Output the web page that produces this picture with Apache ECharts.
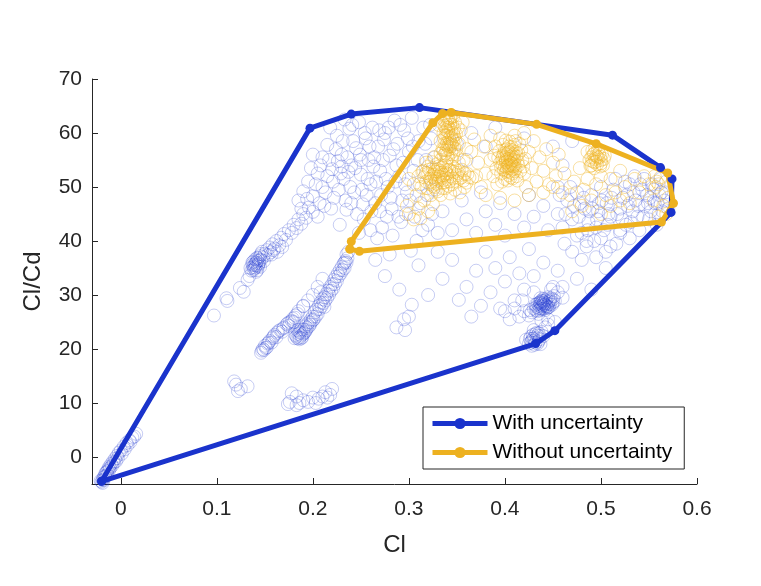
<!DOCTYPE html>
<html>
<head>
<meta charset="utf-8">
<script src="https://cdn.jsdelivr.net/npm/echarts@6/dist/echarts.min.js"></script>
<style>
  html, body { margin: 0; padding: 0; background: #fff; }
  #main { width: 761px; height: 586px; }
</style>
</head>
<body>
<div id="main"></div>
<script>
// tick values
var xTicks = [0, 0.1, 0.2, 0.3, 0.4, 0.5, 0.6];
var yTicks = [0, 10, 20, 30, 40, 50, 60, 70];

// convex hulls (closed)
var hullWith = [[-0.02, -4.5], [0.197, 60.9], [0.24, 63.5], [0.311, 64.7], [0.512, 59.6], [0.562, 53.6],
    [0.574, 51.5], [0.573, 45.3], [0.452, 23.4], [0.432, 21.0], [-0.02, -4.5]];
var hullWithout = [[0.2385, 38.5], [0.240, 39.9], [0.325, 61.9], [0.335, 63.6], [0.344, 63.8], [0.433, 61.6],
    [0.495, 58.0], [0.5695, 52.6], [0.5755, 47.0], [0.563, 43.5], [0.2485, 38.1], [0.2385, 38.5]];

// blue samples (with uncertainty)
var blueOrigin = [[-0.02, -4.6], [-0.019, -4.2], [-0.018, -3.8], [-0.017, -3.5], [-0.016, -3.0], [-0.015, -2.8],
    [-0.013, -2.2], [-0.012, -1.8], [-0.01, -1.3], [-0.008, -0.8], [-0.006, -0.3], [-0.004, 0.2], [-0.002, 0.8],
    [0.0, 1.2], [0.003, 1.9], [0.006, 2.6], [0.009, 3.1], [0.012, 3.6], [0.016, 4.3], [-0.014, -3.3],
    [-0.011, -2.0], [-0.007, -1.0], [-0.019, -4.8], [-0.021, -4.4],
    [-0.018, -4.3], [-0.016, -3.6], [-0.014, -2.6], [-0.012, -2.4], [-0.009, -1.6], [-0.005, -0.8],
    [-0.003, -0.2], [0.001, 0.6], [0.004, 1.4], [0.007, 2.2], [0.01, 2.8], [0.014, 3.8]];
var blueLeftBand = [[0.136, 34.5], [0.138, 35.2], [0.14, 35.8], [0.142, 36.3], [0.139, 34.9], [0.141, 35.5],
    [0.143, 36.8], [0.145, 37.2], [0.137, 35.6], [0.14, 36.6], [0.144, 35.9], [0.146, 36.5], [0.135, 35.0],
    [0.142, 34.6], [0.148, 37.0], [0.15, 37.6], [0.138, 36.2], [0.143, 35.3], [0.147, 38.0], [0.152, 38.3],
    [0.155, 38.8], [0.158, 39.4], [0.16, 38.6], [0.162, 40.0], [0.165, 39.2], [0.167, 40.6], [0.17, 41.3],
    [0.172, 40.2], [0.175, 42.0], [0.178, 41.5], [0.18, 43.0], [0.183, 42.4], [0.185, 44.0], [0.188, 43.2],
    [0.19, 45.0], [0.193, 44.3], [0.196, 46.2], [0.2, 45.4], [0.134, 33.5], [0.132, 32.8], [0.128, 30.6],
    [0.124, 31.3], [0.11, 29.4], [0.111, 28.9], [0.097, 26.2], [0.157, 37.5], [0.163, 38.0], [0.168, 38.9],
    [0.139, 35.5], [0.141, 36.0], [0.143, 35.6], [0.14, 35.1], [0.142, 36.9], [0.138, 34.6], [0.144, 36.4],
    [0.145, 35.2], [0.137, 36.0], [0.141, 34.3], [0.146, 37.6], [0.149, 36.3], [0.153, 37.4], [0.156, 37.9],
    [0.159, 38.3]];
var blueUpper = [[0.185, 47.5], [0.19, 49.2], [0.195, 51.0], [0.2, 48.3], [0.205, 52.5], [0.21, 50.0],
    [0.21, 55.5], [0.215, 57.8], [0.22, 53.3], [0.222, 48.0], [0.225, 59.5], [0.23, 56.0], [0.232, 51.5],
    [0.235, 45.8], [0.238, 60.8], [0.24, 54.0], [0.243, 49.0], [0.245, 57.2], [0.248, 62.0], [0.25, 52.3],
    [0.253, 44.0], [0.255, 59.0], [0.258, 55.0], [0.26, 50.5], [0.262, 61.0], [0.265, 47.0], [0.268, 57.5],
    [0.27, 53.0], [0.272, 42.5], [0.275, 60.0], [0.278, 50.0], [0.28, 55.8], [0.282, 46.0], [0.285, 62.3],
    [0.288, 58.0], [0.29, 52.0], [0.292, 43.5], [0.295, 60.5], [0.298, 49.0], [0.3, 56.5], [0.303, 62.8],
    [0.305, 53.0], [0.308, 40.0], [0.31, 58.5], [0.312, 47.0], [0.315, 61.0], [0.318, 55.0], [0.32, 43.0],
    [0.323, 59.0], [0.325, 49.5], [0.2, 56.0], [0.205, 44.5], [0.212, 46.5], [0.218, 61.0], [0.228, 43.0],
    [0.233, 62.5], [0.248, 41.5], [0.252, 46.8], [0.263, 53.8], [0.267, 40.5], [0.277, 44.5], [0.283, 41.0],
    [0.297, 45.0], [0.302, 38.2], [0.215, 52.0], [0.226, 54.8], [0.237, 52.8], [0.242, 58.5], [0.256, 48.5],
    [0.274, 58.8], [0.287, 54.0], [0.293, 47.5],
    [0.188, 46.0], [0.194, 47.8], [0.198, 53.5], [0.203, 50.5], [0.207, 47.0], [0.208, 54.0], [0.213, 49.0],
    [0.217, 55.0], [0.219, 46.0], [0.221, 51.0], [0.224, 57.0], [0.227, 49.5], [0.229, 52.5], [0.231, 58.5],
    [0.234, 47.5], [0.236, 55.5], [0.239, 50.0], [0.241, 61.5], [0.244, 53.5], [0.246, 45.0], [0.249, 56.0],
    [0.251, 49.5], [0.254, 60.0], [0.257, 51.5], [0.259, 57.5], [0.261, 45.5], [0.264, 55.5], [0.266, 51.0],
    [0.269, 60.5], [0.271, 48.5], [0.273, 55.0], [0.276, 51.5], [0.279, 61.0], [0.281, 48.0], [0.284, 57.0],
    [0.286, 51.0], [0.289, 44.5], [0.291, 61.5], [0.294, 54.5], [0.296, 50.5], [0.299, 59.0], [0.301, 47.5],
    [0.304, 57.5], [0.306, 44.5], [0.309, 55.0], [0.311, 50.5], [0.314, 42.0], [0.317, 58.0], [0.319, 48.5],
    [0.322, 61.5], [0.324, 45.0], [0.327, 55.5], [0.33, 41.5], [0.26, 42.0], [0.27, 45.5], [0.25, 55.0],
    [0.23, 53.8], [0.24, 47.0]];
var blueCentral = [[0.335, 45.5], [0.345, 42.0], [0.355, 47.5], [0.36, 44.0], [0.37, 41.5], [0.375, 49.0],
    [0.38, 45.5], [0.39, 43.0], [0.395, 47.0], [0.4, 41.0], [0.41, 45.0], [0.42, 42.5], [0.425, 48.5],
    [0.43, 44.5], [0.44, 46.5], [0.445, 42.0], [0.35, 58.0], [0.365, 60.0], [0.38, 57.5], [0.39, 61.0],
    [0.36, 55.0], [0.42, 59.0], [0.45, 57.5], [0.46, 54.0], [0.47, 58.5], [0.455, 50.0]];
var blueMiddle = [[0.265, 36.5], [0.275, 33.5], [0.28, 37.5], [0.29, 31.0], [0.295, 25.5], [0.3, 26.0],
    [0.303, 28.2], [0.31, 35.5], [0.32, 30.0], [0.33, 38.0], [0.335, 33.0], [0.345, 36.5], [0.352, 29.1],
    [0.36, 31.5], [0.365, 26.0], [0.37, 34.5], [0.375, 28.0], [0.38, 38.0], [0.385, 30.5], [0.39, 35.0],
    [0.395, 27.5], [0.4, 32.5], [0.405, 37.0], [0.41, 29.0], [0.415, 34.0], [0.42, 31.0], [0.425, 38.5],
    [0.43, 33.5], [0.44, 36.0], [0.45, 31.5], [0.455, 34.5], [0.46, 29.5], [0.47, 38.0], [0.475, 33.0],
    [0.48, 36.5], [0.485, 40.0], [0.49, 31.0], [0.495, 37.0], [0.5, 40.5], [0.505, 35.0], [0.51, 39.0],
    [0.52, 42.0], [0.287, 24.0], [0.296, 23.5]];
var blueLowRight = [[0.43, 27.5], [0.432, 28.2], [0.434, 27.0], [0.436, 28.6], [0.438, 27.8], [0.44, 28.4],
    [0.442, 29.0], [0.444, 28.0], [0.446, 28.8], [0.448, 29.4], [0.45, 28.6], [0.436, 27.2], [0.439, 28.9],
    [0.441, 27.5], [0.443, 28.5], [0.445, 29.6], [0.433, 27.8], [0.437, 28.3], [0.44, 27.9], [0.442, 28.2],
    [0.447, 28.3], [0.428, 26.8], [0.435, 26.5], [0.451, 29.8], [0.438, 28.5], [0.44, 28.8], [0.444, 27.6],
    [0.426, 27.2], [0.452, 28.9], [0.437, 29.4], [0.425, 26.2], [0.42, 27.0], [0.415, 26.0], [0.41, 27.5],
    [0.405, 25.5], [0.4, 27.0], [0.418, 29.0], [0.455, 30.5], [0.46, 31.5], [0.448, 31.0], [0.43, 30.5],
    [0.445, 25.5], [0.452, 25.0], [0.438, 25.2],
    [0.435, 27.6], [0.437, 27.5], [0.439, 28.1], [0.441, 28.6], [0.443, 27.9], [0.445, 28.4], [0.447, 29.0],
    [0.449, 28.2], [0.434, 28.4], [0.438, 29.0], [0.442, 27.2], [0.446, 27.8], [0.432, 27.2], [0.45, 29.2],
    [0.44, 29.3], [0.436, 28.0], [0.439, 27.4], [0.441, 28.2], [0.443, 29.2], [0.445, 27.7], [0.437, 28.7],
    [0.425, 21.0], [0.428, 21.5], [0.43, 22.0], [0.432, 21.2], [0.434, 22.5], [0.436, 21.8], [0.427, 22.3],
    [0.431, 20.8], [0.433, 23.0], [0.438, 23.2], [0.44, 22.4], [0.429, 21.9], [0.435, 22.9], [0.442, 24.0],
    [0.445, 24.5], [0.422, 21.7], [0.43, 23.5], [0.437, 20.9],
    [0.427, 21.2], [0.429, 22.6], [0.431, 21.6], [0.433, 22.0], [0.435, 21.4], [0.428, 20.6], [0.434, 21.0],
    [0.432, 22.8], [0.426, 21.9], [0.436, 22.4]];
var blueRight = [[0.455, 45.0], [0.46, 42.5], [0.465, 47.5], [0.47, 44.0], [0.475, 49.0], [0.48, 41.5],
    [0.483, 46.0], [0.487, 43.5], [0.49, 48.5], [0.493, 40.0], [0.497, 45.5], [0.5, 50.0], [0.503, 42.0],
    [0.506, 47.0], [0.51, 44.5], [0.513, 49.5], [0.516, 39.5], [0.52, 46.0], [0.523, 48.0], [0.526, 43.0],
    [0.53, 50.5], [0.533, 45.5], [0.536, 47.5], [0.54, 42.0], [0.543, 49.5], [0.546, 46.5], [0.55, 44.0],
    [0.553, 50.5], [0.556, 47.0], [0.56, 45.0], [0.563, 49.0], [0.566, 47.5], [0.568, 51.0], [0.57, 46.0],
    [0.545, 51.5], [0.535, 52.0], [0.525, 51.0], [0.515, 51.5], [0.505, 38.0], [0.495, 42.5], [0.485, 39.0],
    [0.475, 41.0], [0.53, 40.5], [0.52, 41.5], [0.548, 48.5], [0.538, 44.5], [0.528, 46.5], [0.508, 45.0],
    [0.498, 47.0], [0.488, 45.5], [0.478, 47.0], [0.468, 50.0], [0.462, 39.5], [0.558, 43.0], [0.562, 51.5],
    [0.457, 48.5], [0.463, 45.0], [0.472, 46.5], [0.477, 44.5], [0.482, 48.0], [0.486, 42.0], [0.491, 46.0],
    [0.496, 44.0], [0.501, 47.5], [0.507, 43.0], [0.511, 48.0], [0.517, 45.0], [0.522, 44.0], [0.527, 48.5],
    [0.531, 43.5], [0.534, 49.0], [0.539, 46.5], [0.544, 44.5], [0.549, 47.0], [0.552, 45.5], [0.555, 49.5],
    [0.559, 47.0], [0.564, 45.5], [0.567, 49.0], [0.541, 50.5], [0.551, 48.0], [0.561, 48.5]];
var blueStrands = [[0.146, 19.3], [0.148, 20.0], [0.15, 20.6], [0.153, 21.0], [0.155, 21.5], [0.158, 22.0],
    [0.16, 22.6], [0.163, 23.0], [0.166, 23.5], [0.17, 24.0], [0.173, 24.6], [0.176, 25.0], [0.179, 25.6],
    [0.182, 26.2], [0.149, 19.8], [0.152, 20.3], [0.157, 21.2], [0.162, 22.2], [0.168, 23.2], [0.175, 24.3],
    [0.18, 25.0], [0.185, 27.0], [0.19, 28.0],
    [0.147, 19.7], [0.151, 20.2], [0.154, 21.2], [0.159, 22.3], [0.164, 23.3], [0.169, 23.8], [0.174, 24.8],
    [0.178, 25.2], [0.181, 25.8], [0.184, 26.5],
    [0.181, 22.0], [0.183, 22.3], [0.185, 22.8], [0.187, 23.0], [0.188, 22.5], [0.19, 23.6], [0.192, 24.2],
    [0.194, 24.6], [0.196, 25.0], [0.198, 25.5], [0.2, 26.0], [0.202, 26.8], [0.204, 27.3], [0.206, 28.0],
    [0.208, 28.6], [0.21, 29.2], [0.212, 29.6], [0.214, 30.2], [0.216, 30.8], [0.218, 31.5], [0.22, 32.0],
    [0.222, 32.8], [0.224, 33.4], [0.226, 34.0], [0.228, 34.6], [0.23, 35.2], [0.232, 35.8], [0.234, 36.3],
    [0.236, 36.8], [0.184, 23.5], [0.189, 22.2], [0.193, 23.5], [0.197, 24.5], [0.201, 25.5], [0.205, 26.5],
    [0.211, 28.5], [0.215, 29.5], [0.219, 30.8], [0.223, 32.0], [0.227, 33.5], [0.233, 35.0], [0.235, 37.5],
    [0.237, 38.0], [0.2, 30.0], [0.19, 27.9], [0.195, 29.0], [0.205, 31.5], [0.21, 33.0], [0.186, 22.1],
    [0.191, 23.0], [0.212, 27.8], [0.208, 30.5],
    [0.182, 22.6], [0.184, 22.0], [0.186, 23.2], [0.188, 23.6], [0.19, 22.8], [0.192, 23.2], [0.194, 23.9],
    [0.196, 24.2], [0.198, 24.9], [0.2, 25.3], [0.203, 26.0], [0.207, 27.4], [0.209, 27.9], [0.213, 29.0],
    [0.217, 30.1], [0.221, 31.2], [0.225, 32.6], [0.229, 34.0], [0.231, 34.6], [0.233, 36.0], [0.235, 36.0],
    [0.188, 22.0], [0.186, 21.8]];
var blueLow = [[0.12, 13.4], [0.132, 13.1], [0.122, 12.2], [0.118, 14.0], [0.125, 12.6],
    [0.174, 9.8], [0.176, 10.2], [0.178, 11.8], [0.183, 11.2], [0.186, 10.0], [0.19, 10.5], [0.195, 10.2],
    [0.2, 11.0], [0.203, 10.0], [0.206, 10.8], [0.21, 11.2], [0.213, 12.0], [0.215, 11.0], [0.218, 11.5],
    [0.22, 12.6], [0.183, 9.6]];

// orange samples (without uncertainty)
var orangeTop = [[0.336, 62.5], [0.339, 63.0], [0.342, 62.2], [0.345, 61.5], [0.338, 61.0], [0.341, 60.2],
    [0.344, 59.5], [0.347, 60.8], [0.337, 59.0], [0.34, 58.2], [0.343, 57.5], [0.346, 58.5], [0.349, 59.8],
    [0.335, 57.0], [0.338, 56.2], [0.341, 55.5], [0.344, 56.5], [0.347, 57.2], [0.35, 56.0], [0.34, 61.5],
    [0.343, 62.8], [0.346, 63.0], [0.336, 60.0], [0.339, 57.8], [0.342, 59.0], [0.345, 59.0], [0.348, 62.0],
    [0.352, 58.0], [0.354, 60.5], [0.333, 58.5], [0.331, 61.5], [0.356, 62.0], [0.36, 57.0], [0.357, 55.0],
    [0.352, 54.5],
    [0.338, 62.0], [0.341, 61.0], [0.344, 60.5], [0.34, 59.5], [0.343, 58.5], [0.339, 56.8], [0.342, 57.0],
    [0.345, 57.8], [0.337, 58.0], [0.341, 62.8], [0.344, 63.3], [0.348, 58.8], [0.335, 61.8], [0.346, 56.0],
    [0.333, 56.2],
    [0.337, 61.3], [0.34, 62.4], [0.343, 61.6], [0.346, 60.0], [0.339, 60.5], [0.342, 58.0], [0.344, 58.0],
    [0.338, 59.5], [0.341, 57.5], [0.347, 59.5], [0.336, 56.8], [0.34, 56.0], [0.345, 55.2], [0.349, 57.0],
    [0.351, 61.0]];
var orangeLeft = [[0.31, 52.0], [0.315, 53.0], [0.318, 51.0], [0.32, 52.5], [0.322, 50.5], [0.325, 53.5],
    [0.327, 51.5], [0.33, 52.0], [0.332, 53.0], [0.334, 50.8], [0.336, 52.2], [0.338, 54.0], [0.34, 51.5],
    [0.342, 53.2], [0.345, 50.5], [0.347, 52.8], [0.35, 51.0], [0.352, 53.0], [0.355, 51.8], [0.358, 52.5],
    [0.36, 50.8], [0.363, 51.8], [0.366, 51.7], [0.37, 52.0], [0.328, 49.5], [0.333, 48.5], [0.338, 49.8],
    [0.343, 48.8], [0.323, 48.5], [0.318, 54.5], [0.326, 55.5], [0.333, 55.0], [0.329, 52.8], [0.331, 51.2],
    [0.335, 53.6], [0.339, 52.6], [0.324, 52.0], [0.344, 52.0], [0.313, 50.0], [0.308, 48.5], [0.305, 50.5],
    [0.3, 51.5], [0.348, 49.5], [0.353, 49.0], [0.358, 50.0],
    [0.326, 52.3], [0.328, 51.0], [0.33, 53.3], [0.332, 51.9], [0.334, 52.6], [0.336, 51.3], [0.338, 53.1],
    [0.34, 52.4], [0.322, 51.5], [0.325, 50.2], [0.329, 54.2], [0.335, 49.8], [0.341, 50.2], [0.32, 53.8],
    [0.345, 53.8], [0.316, 51.8], [0.35, 52.2], [0.355, 53.2],
    [0.318, 52.6], [0.321, 53.2], [0.323, 51.0], [0.327, 52.9], [0.329, 50.6], [0.331, 53.8], [0.333, 52.3],
    [0.337, 50.9], [0.339, 54.6], [0.342, 51.0], [0.344, 53.0], [0.346, 51.6], [0.348, 53.4], [0.351, 52.6],
    [0.319, 49.8], [0.324, 54.6], [0.336, 55.8], [0.33, 49.2], [0.314, 52.8], [0.353, 51.6], [0.357, 51.2],
    [0.361, 52.4], [0.327, 50.0], [0.335, 51.7],
    [0.3, 45.0], [0.305, 44.0], [0.31, 46.0], [0.316, 47.5], [0.298, 46.5], [0.32, 45.5], [0.312, 44.2],
    [0.325, 46.8], [0.365, 56.5], [0.372, 54.5], [0.378, 57.5], [0.38, 52.5], [0.375, 50.0], [0.368, 58.8]];
var orangeMid = [[0.398, 54.0], [0.4, 55.5], [0.402, 53.0], [0.404, 56.5], [0.406, 54.5], [0.408, 52.5],
    [0.41, 55.0], [0.403, 54.8], [0.405, 53.5], [0.407, 55.8], [0.401, 52.8], [0.409, 53.8], [0.404, 57.5],
    [0.406, 51.8], [0.399, 56.2], [0.411, 56.5], [0.396, 52.5], [0.412, 52.0], [0.403, 55.2], [0.405, 54.0],
    [0.407, 53.2], [0.402, 56.0], [0.408, 56.8], [0.4, 53.8], [0.41, 54.2],
    [0.397, 55.2], [0.399, 53.2], [0.401, 54.6], [0.403, 53.9], [0.405, 55.6], [0.407, 54.3], [0.409, 55.5],
    [0.411, 53.4], [0.404, 52.2], [0.406, 56.9], [0.402, 57.0], [0.408, 51.6], [0.395, 54.5], [0.413, 54.8],
    [0.4, 51.5], [0.41, 57.8], [0.398, 57.8], [0.414, 56.2], [0.394, 56.6], [0.416, 53.0],
    [0.401, 55.0], [0.403, 56.3], [0.405, 52.8], [0.407, 54.9], [0.409, 56.0], [0.404, 54.1], [0.406, 55.3],
    [0.402, 53.6], [0.408, 53.9], [0.4, 56.8], [0.41, 52.9], [0.396, 53.6], [0.412, 55.6], [0.398, 55.8],
    [0.414, 54.0], [0.403, 51.2], [0.407, 57.4], [0.393, 55.4], [0.417, 56.8], [0.391, 53.4], [0.419, 53.8],
    [0.397, 51.0], [0.413, 51.2], [0.405, 58.4], [0.389, 55.8], [0.421, 55.2], [0.401, 58.6], [0.411, 58.5],
    [0.385, 55.0], [0.388, 52.0], [0.39, 57.5], [0.392, 50.5], [0.415, 58.0], [0.418, 55.0], [0.42, 52.5],
    [0.422, 50.0], [0.425, 56.5], [0.428, 53.5], [0.43, 58.5], [0.433, 51.0], [0.436, 55.5], [0.44, 53.0],
    [0.443, 57.0], [0.446, 50.5], [0.45, 54.5], [0.453, 52.0], [0.456, 56.0], [0.46, 49.0], [0.395, 59.0],
    [0.41, 59.5], [0.42, 60.0], [0.38, 48.5], [0.395, 48.0], [0.41, 47.5], [0.425, 48.5], [0.44, 49.0],
    [0.45, 50.0], [0.385, 59.5]];
var orangeRight = [[0.488, 55.0], [0.49, 54.0], [0.492, 56.0], [0.494, 55.2], [0.496, 54.2], [0.498, 56.2],
    [0.5, 55.0], [0.502, 54.0], [0.493, 53.5], [0.497, 57.0], [0.504, 55.8], [0.486, 56.5], [0.495, 55.8],
    [0.499, 53.8], [0.49, 55.5], [0.493, 54.6], [0.496, 55.6], [0.5, 54.4], [0.491, 56.8], [0.499, 55.6],
    [0.494, 57.3], [0.503, 55.2], [0.491, 54.8], [0.495, 54.7], [0.497, 55.4], [0.501, 56.0], [0.493, 56.2],
    [0.489, 53.9],
    [0.462, 52.5], [0.468, 48.5], [0.472, 51.0], [0.478, 53.5], [0.482, 49.5], [0.486, 51.5], [0.49, 47.5],
    [0.495, 50.5], [0.5, 52.0], [0.505, 48.5], [0.51, 51.5], [0.515, 49.0], [0.52, 53.0], [0.525, 50.0],
    [0.53, 47.0], [0.535, 51.5], [0.54, 49.0], [0.545, 52.0], [0.55, 50.5], [0.555, 47.5], [0.565, 46.5],
    [0.568, 45.0], [0.56, 44.5], [0.57, 48.0], [0.5, 45.0], [0.51, 46.5], [0.52, 47.5], [0.47, 45.5],
    [0.48, 46.5], [0.556, 52.0], [0.558, 51.0], [0.56, 50.5], [0.562, 51.8], [0.557, 50.0]];

var blueSamples = blueOrigin.concat(blueLeftBand, blueUpper, blueCentral, blueMiddle,
    blueLowRight, blueRight, blueStrands, blueLow);
var orangeSamples = orangeTop.concat(orangeLeft, orangeMid, orangeRight);

var BLUE = '#1a33cc';
var ORANGE = '#edb120';
var FONT = '"Liberation Sans", Helvetica, Arial, sans-serif';

var myChart = echarts.init(document.getElementById('main'), null, { renderer: 'canvas' });

var axisLineStyle = { show: true, onZero: false, lineStyle: { color: '#262626', width: 1 } };
var nameStyle = { fontFamily: FONT, fontSize: 24, color: '#262626' };

var option = {
    animation: false,
    backgroundColor: '#fff',
    grid: { left: 92, right: 64, top: 79, bottom: 102, containLabel: false },
    legend: {
        data: ['With uncertainty', 'Without uncertainty'],
        orient: 'vertical',
        left: 423,
        top: 407,
        itemWidth: 55,
        itemHeight: 14,
        itemGap: 8,
        padding: [6, 12, 6, 7],
        borderColor: '#262626',
        borderWidth: 1,
        backgroundColor: '#fff',
        lineStyle: { width: 5 },
        textStyle: { fontFamily: FONT, fontSize: 21, color: '#000' }
    },
    xAxis: {
        type: 'value',
        min: -0.03,
        max: 0.6,
        name: 'Cl',
        nameLocation: 'middle',
        nameGap: 49,
        nameTextStyle: nameStyle,
        axisLine: axisLineStyle,
        splitLine: { show: false },
        axisTick: { show: true, inside: true, length: 6, customValues: xTicks, lineStyle: { color: '#262626' } },
        axisLabel: {
            customValues: xTicks,
            margin: 15,
            fontFamily: FONT, fontSize: 21, color: '#262626',
            formatter: function (v) { return String(Math.round(v * 10) / 10); }
        }
    },
    yAxis: {
        type: 'value',
        min: -5,
        max: 70,
        name: 'Cl/Cd',
        nameLocation: 'middle',
        nameGap: 47,
        nameTextStyle: nameStyle,
        axisLine: axisLineStyle,
        splitLine: { show: false },
        axisTick: { show: true, inside: true, length: 6, customValues: yTicks, lineStyle: { color: '#262626' } },
        axisLabel: {
            customValues: yTicks,
            margin: 10,
            fontFamily: FONT, fontSize: 21, color: '#262626'
        }
    },
    series: [
        {
            name: 'blue samples',
            type: 'scatter',
            data: blueSamples,
            symbol: 'circle',
            symbolSize: 13,
            itemStyle: { color: 'rgba(0,0,0,0)', borderColor: 'rgba(26,51,204,0.3)', borderWidth: 1 }
        },
        {
            name: 'orange samples',
            type: 'scatter',
            data: orangeSamples,
            symbol: 'circle',
            symbolSize: 13,
            itemStyle: { color: 'rgba(0,0,0,0)', borderColor: 'rgba(237,177,32,0.52)', borderWidth: 1 }
        },
        {
            name: 'With uncertainty',
            type: 'line',
            data: hullWith,
            symbol: 'circle',
            symbolSize: 9,
            showAllSymbol: true,
            lineStyle: { color: BLUE, width: 5 },
            itemStyle: { color: BLUE, borderWidth: 0 }
        },
        {
            name: 'Without uncertainty',
            type: 'line',
            data: hullWithout,
            symbol: 'circle',
            symbolSize: 9,
            showAllSymbol: true,
            lineStyle: { color: ORANGE, width: 5 },
            itemStyle: { color: ORANGE, borderWidth: 0 }
        }
    ]
};

myChart.setOption(option);
</script>
</body>
</html>
